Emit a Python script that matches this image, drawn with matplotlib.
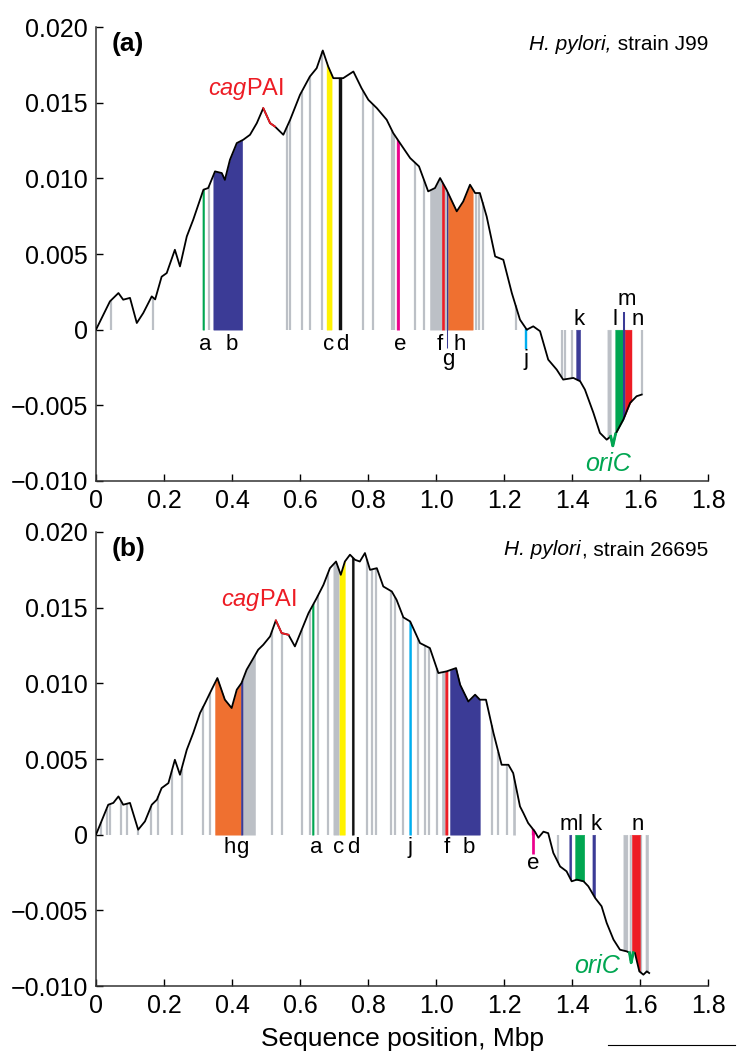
import numpy as np
import matplotlib
matplotlib.use('Agg')
import matplotlib.pyplot as plt
from matplotlib.lines import Line2D

plt.rcParams['font.family'] = ['Liberation Sans', 'DejaVu Sans']
plt.rcParams['mathtext.fontset'] = 'custom'
plt.rcParams['mathtext.rm'] = 'Liberation Sans'
plt.rcParams['mathtext.it'] = 'Liberation Sans:italic'

# cumulative skew curves (Mbp, skew)
pos_a = [0.000, 0.041, 0.066, 0.080, 0.100, 0.120, 0.139, 0.164, 0.174, 0.193,
         0.208, 0.232, 0.247, 0.267, 0.286, 0.316, 0.330, 0.350, 0.370, 0.379,
         0.394, 0.414, 0.433, 0.453, 0.473, 0.492, 0.512, 0.526, 0.551, 0.571,
         0.600, 0.629, 0.649, 0.667, 0.683, 0.698, 0.727, 0.757, 0.781, 0.801,
         0.826, 0.855, 0.874, 0.894, 0.924, 0.950, 0.977, 0.997, 1.012, 1.031,
         1.061, 1.080, 1.100, 1.115, 1.129, 1.149, 1.174, 1.198, 1.223, 1.247,
         1.267, 1.286, 1.306, 1.330, 1.355, 1.374, 1.404, 1.424, 1.438, 1.463,
         1.482, 1.502, 1.514, 1.520, 1.528, 1.551, 1.571, 1.590, 1.605]
skew_a = [0.0000, 0.00187, 0.00242, 0.00198, 0.00210, 0.00044, 0.00110, 0.00220, 0.00200, 0.00350,
          0.00374, 0.00528, 0.00418, 0.00616, 0.00727, 0.00925, 0.00936, 0.01046, 0.01035, 0.00990,
          0.01123, 0.01233, 0.01255, 0.01288, 0.01365, 0.01464, 0.01365, 0.01343, 0.01288, 0.01387,
          0.01552, 0.01673, 0.01728, 0.01845, 0.01739, 0.01662, 0.01662, 0.01706, 0.01596, 0.01519,
          0.01464, 0.01387, 0.01300, 0.01233, 0.01134, 0.01079, 0.00914, 0.00936, 0.01002, 0.00925,
          0.00782, 0.00847, 0.00958, 0.00903, 0.00903, 0.00748, 0.00484, 0.00462, 0.00242, 0.00066,
          0.00000, 0.00022, -0.00010, -0.00198, -0.00264, -0.00330, -0.00319, -0.00341, -0.00396, -0.00550,
          -0.00682, -0.00727, -0.00705, -0.00770, -0.00690, -0.00594, -0.00484, -0.00440, -0.00429]

pos_b = [0.000, 0.036, 0.051, 0.066, 0.080, 0.100, 0.124, 0.144, 0.164, 0.179,
         0.193, 0.213, 0.232, 0.247, 0.267, 0.286, 0.306, 0.321, 0.340, 0.357,
         0.379, 0.399, 0.414, 0.428, 0.443, 0.463, 0.477, 0.492, 0.512, 0.529,
         0.546, 0.566, 0.585, 0.605, 0.625, 0.649, 0.669, 0.688, 0.706, 0.720,
         0.732, 0.747, 0.762, 0.776, 0.791, 0.806, 0.826, 0.845, 0.870, 0.884,
         0.904, 0.924, 0.953, 0.982, 1.007, 1.031, 1.059, 1.071, 1.095, 1.115,
         1.129, 1.147, 1.169, 1.193, 1.213, 1.227, 1.247, 1.257, 1.271, 1.291,
         1.301, 1.316, 1.330, 1.345, 1.365, 1.384, 1.399, 1.414, 1.434, 1.448,
         1.468, 1.487, 1.502, 1.522, 1.541, 1.561, 1.569, 1.574, 1.580, 1.585,
         1.598, 1.610, 1.620, 1.627]
skew_b = [0.0000, 0.00198, 0.00210, 0.00253, 0.00198, 0.00210, 0.00033, 0.00088, 0.00198, 0.00231,
          0.00308, 0.00341, 0.00495, 0.00396, 0.00561, 0.00672, 0.00804, 0.00870, 0.00958, 0.01035,
          0.00892, 0.00837, 0.00958, 0.01002, 0.01090, 0.01167, 0.01222, 0.01255, 0.01310, 0.01416,
          0.01332, 0.01321, 0.01244, 0.01354, 0.01464, 0.01563, 0.01651, 0.01761, 0.01805, 0.01717,
          0.01805, 0.01850, 0.01816, 0.01805, 0.01861, 0.01750, 0.01761, 0.01640, 0.01607, 0.01552,
          0.01436, 0.01409, 0.01266, 0.01233, 0.01068, 0.01079, 0.01101, 0.00991, 0.00880, 0.00925,
          0.00892, 0.00892, 0.00672, 0.00462, 0.00462, 0.00407, 0.00187, 0.00143, 0.00077, 0.00020,
          -0.00020, 0.00020, 0.00010, -0.00120, -0.00210, -0.00242, -0.00308, -0.00297, -0.00308, -0.00341,
          -0.00418, -0.00473, -0.00583, -0.00693, -0.00760, -0.00771, -0.00780, -0.00847, -0.00780, -0.00781,
          -0.00903, -0.00925, -0.00903, -0.00914]

# grey marker lines and grey blocks
grey_a = [0.043, 0.169, 0.332, 0.561, 0.571, 0.605, 0.629, 0.666, 0.786, 0.814,
          0.870, 0.877, 0.938, 0.965, 1.118, 1.127, 1.137, 1.234, 1.370, 1.379,
          1.399, 1.605]
grey_spans_a = [(0.982, 1.017), (1.024, 1.031), (1.504, 1.514)]
grey_b = [0.015, 0.031, 0.041, 0.074, 0.090, 0.124, 0.162, 0.183, 0.223, 0.252,
          0.316, 0.335, 0.518, 0.546, 0.605, 0.629, 0.654, 0.683, 0.796, 0.811,
          0.824, 0.867, 0.879, 0.904, 0.948, 0.968, 0.980, 1.002, 1.164, 1.183,
          1.208, 1.360, 1.603]
grey_spans_b = [(0.431, 0.468), (0.698, 0.714), (1.017, 1.026), (1.226, 1.233),
                (1.551, 1.563), (1.569, 1.574), (1.616, 1.624)]

# coloured gene regions
names_a = ['a', 'b', 'c', 'd', 'e', 'f', 'g', 'h', 'j', 'k', 'l', 'm', 'n']
start_a = [0.313, 0.345, 0.678, 0.716, 0.884, 1.017, 1.032, 1.036, 1.262, 1.412, 1.527, 1.550, 1.556]
end_a = [0.318, 0.430, 0.693, 0.723, 0.892, 1.024, 1.035, 1.108, 1.269, 1.424, 1.550, 1.556, 1.575]
tails_a = {'g': -0.0012, 'j': -0.0013, 'm': 0.0012}

names_b = ['h', 'g', 'a', 'c', 'd', 'j', 'f', 'b', 'e', 'm', 'l', 'k', 'n']
start_b = [0.350, 0.426, 0.635, 0.716, 0.752, 0.921, 1.027, 1.041, 1.281, 1.392, 1.409, 1.460, 1.576]
end_b = [0.426, 0.431, 0.640, 0.732, 0.758, 0.927, 1.034, 1.129, 1.289, 1.398, 1.436, 1.468, 1.600]
tails_b = {'e': -0.0013}

# label placement (x in Mbp, baseline y)
lab_x_a = [0.321, 0.399, 0.683, 0.723, 0.894, 1.010, 1.036, 1.071, 1.265, 1.421, 1.526, 1.561, 1.592]
lab_y_a = [-0.00132, -0.00132, -0.00132, -0.00132, -0.00132, -0.00132, -0.00231, -0.00132,
           -0.00231, 0.00033, 0.00033, 0.00165, 0.00033]
lab_x_b = [0.392, 0.431, 0.647, 0.713, 0.757, 0.924, 1.031, 1.095, 1.286, 1.392, 1.424, 1.471, 1.593]
lab_y_b = [-0.00121, -0.00121, -0.00121, -0.00121, -0.00121, -0.00121, -0.00121, -0.00121,
           -0.00227, 0.00033, 0.00033, 0.00033, 0.00033]

cag_a = (0.492, 0.526)
cag_b = (0.529, 0.566)
ori_a = (1.514, 1.528)
ori_b = (1.569, 1.580)

xticks = [0, 0.2, 0.4, 0.6, 0.8, 1.0, 1.2, 1.4, 1.6, 1.8]
xticklabels = ['0', '0.2', '0.4', '0.6', '0.8', '1.0', '1.2', '1.4', '1.6', '1.8']
yticks = [-0.010, -0.005, 0, 0.005, 0.010, 0.015, 0.020]
yticklabels = ['\u22120.010', '\u22120.005', '0', '0.005', '0.010', '0.015', '0.020']

colors = {'a': '#00a651', 'b': '#3b3b96', 'c': '#fff200', 'd': '#111111',
          'e': '#ec008c', 'f': '#ed1c24', 'g': '#3b3b96', 'h': '#ef7030',
          'j': '#00aeef', 'k': '#3b3b96', 'l': '#00a651', 'm': '#3b3b96',
          'n': '#ed1c24'}
grey = '#bcc0c6'


def draw_panel(ax, pos, skew, greys, grey_spans, names, starts, ends, tails,
               lab_x, lab_y, cag, ori, tag, strain_it, strain_rm, cag_xy, ori_xy):
    pos = np.array(pos)
    skew = np.array(skew)
    for x in greys:
        ax.vlines(x, 0, np.interp(x, pos, skew), color=grey, lw=1.6, zorder=1)
    for s, e in grey_spans:
        xs = np.linspace(s, e, 20)
        ax.fill_between(xs, 0, np.interp(xs, pos, skew), color=grey, lw=0.3, zorder=1)
    for n, s, e in zip(names, starts, ends):
        xs = np.linspace(s, e, 30)
        ax.fill_between(xs, 0, np.interp(xs, pos, skew), color=colors[n],
                        lw=0.3, zorder=2)
        if n in tails:
            xm = (s + e) / 2
            ax.vlines(xm, tails[n], np.interp(xm, pos, skew), color=colors[n],
                      lw=(e - s) * 340 * 0.72, zorder=2)
    for n, x, y in zip(names, lab_x, lab_y):
        ax.text(x, y, n, ha='center', va='baseline', fontsize=16, zorder=4)

    ax.plot(pos, skew, color='black', lw=1.3, zorder=3)
    xs = np.linspace(cag[0], cag[1], 30)
    ax.plot(xs, np.interp(xs, pos, skew), color='#ed1c24', lw=1.3, zorder=3)
    xs = np.linspace(ori[0], ori[1], 30)
    ax.plot(xs, np.interp(xs, pos, skew), color='#00a651', lw=2.0, zorder=3)

    ax.text(cag_xy[0], cag_xy[1], r'$\it{cag}$PAI', color='#ed1c24',
            fontsize=17, ha='center', va='baseline')
    ax.text(ori_xy[0], ori_xy[1], 'oriC', color='#00a651', fontsize=18,
            style='italic', ha='center', va='baseline')
    ax.text(0.026, 0.947, tag, transform=ax.transAxes, fontsize=19,
            fontweight='bold', ha='left', va='baseline')
    t_rm = ax.text(1.0, 0.949, strain_rm, transform=ax.transAxes, fontsize=15,
                   ha='right', va='baseline')
    ax.annotate(strain_it, xy=(0, 0), xycoords=t_rm, xytext=(-0.5, 0),
                textcoords='offset points', fontsize=15, style='italic',
                ha='right', va='bottom')

    ax.set_xlim(0, 1.8)
    ax.set_ylim(-0.010, 0.020)
    ax.set_xticks(xticks)
    ax.set_xticklabels(xticklabels)
    ax.set_yticks(yticks)
    ax.set_yticklabels(yticklabels)
    ax.tick_params(direction='in', length=5, width=1, labelsize=18, pad=6)
    ax.spines['top'].set_visible(False)
    ax.spines['right'].set_visible(False)
    for sp in ('left', 'bottom'):
        ax.spines[sp].set_linewidth(1.1)
        ax.spines[sp].set_color('#333333')


fig = plt.figure(figsize=(7.43, 10.52), dpi=100)
ax_a = fig.add_axes([0.1292, 0.5428, 0.8237, 0.4315])
ax_b = fig.add_axes([0.1292, 0.0627, 0.8237, 0.4316])

draw_panel(ax_a, pos_a, skew_a, grey_a, grey_spans_a, names_a, start_a, end_a,
           tails_a, lab_x_a, lab_y_a, cag_a, ori_a, '(a)',
           'H. pylori,', ' strain J99', (0.441, 0.01552), (1.506, -0.00936))
draw_panel(ax_b, pos_b, skew_b, grey_b, grey_spans_b, names_b, start_b, end_b,
           tails_b, lab_x_b, lab_y_b, cag_b, ori_b, '(b)',
           'H. pylori', ', strain 26695', (0.479, 0.01510), (1.474, -0.00914))

ax_b.set_xlabel('Sequence position, Mbp', fontsize=19, labelpad=6)

# clipped rule at the bottom edge of the page
fig.add_artist(Line2D([608 / 743, 735 / 743], [1 - 1045 / 1052] * 2,
                      color='black', lw=0.8))

fig.savefig('out.png', dpi=100)
